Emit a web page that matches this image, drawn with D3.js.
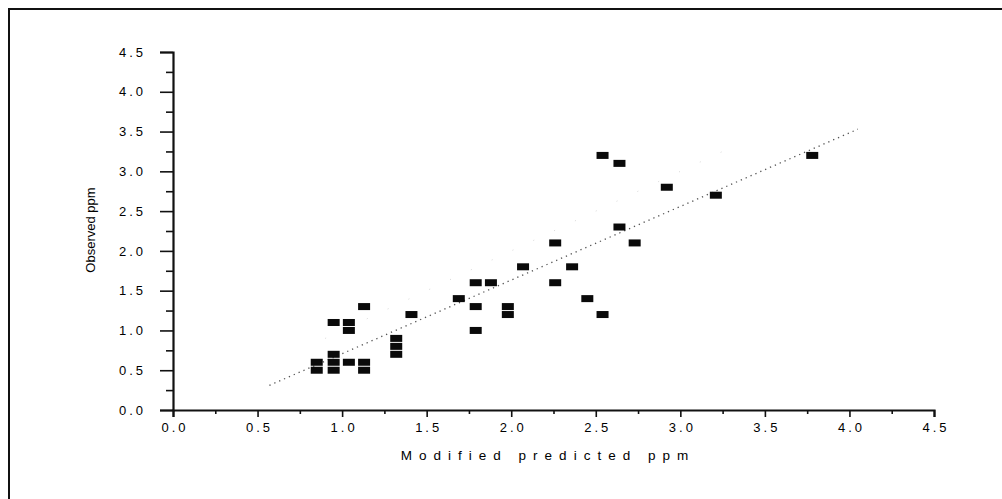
<!DOCTYPE html>
<html>
<head>
<meta charset="utf-8">
<script src="https://cdn.jsdelivr.net/npm/d3@7"></script>
<style>
  body { margin: 0; background: #fff; }
  svg { display: block; font-family: Arial, "Liberation Sans", sans-serif; }
</style>
</head>
<body>
<div class="chart"></div>
<script>
// points (modified predicted ppm vs observed ppm)
var predicted = [0.85,0.85, 0.95,0.95,0.95,0.95, 1.04,1.04,1.04, 1.13,1.13,1.13,
                 1.32,1.32,1.32, 1.41, 1.69, 1.79,1.79,1.79, 1.88, 1.98,1.98,
                 2.07, 2.26,2.26, 2.36, 2.45, 2.54,2.54, 2.64,2.64, 2.73,
                 2.92, 3.21, 3.78];
var observed  = [0.6,0.5, 1.1,0.7,0.6,0.5, 1.1,1.0,0.6, 1.3,0.6,0.5,
                 0.9,0.8,0.7, 1.2, 1.4, 1.6,1.3,1.0, 1.6, 1.3,1.2,
                 1.8, 2.1,1.6, 1.8, 1.4, 3.2,1.2, 3.1,2.3, 2.1,
                 2.8, 2.7, 3.2];

// fitted line (dotted) and faint upper band
var fitX = [0.57, 4.05];
var fitY = [0.31, 3.53];
var bandX = [0.9, 3.25];
var bandY = [0.9, 3.25];

var majorTicks = [0, 0.5, 1, 1.5, 2, 2.5, 3, 3.5, 4, 4.5];
var minorTicks = [0.25, 0.75, 1.25, 1.75, 2.25, 2.75, 3.25, 3.75, 4.25];

var width = 1002, height = 499;

var svg = d3.select('.chart')
            .append('svg')
            .attr('width', width)
            .attr('height', height)
            .style('background', '#fff');

// outer frame (only top and left show inside the picture)
svg.append('path')
   .attr('d', 'M9,' + (height + 5) + 'V9H' + (width + 5))
   .attr('fill', 'none')
   .attr('stroke', '#111')
   .attr('stroke-width', 2);

var xScale = d3.scaleLinear().domain([0, 4.5]).range([173, 934]);
var yScale = d3.scaleLinear().domain([0, 4.5]).range([410, 52]);

var fmt = d3.format('.1f');

// y axis
var yMinor = svg.append('g').attr('transform', 'translate(173,0)')
  .call(d3.axisLeft(yScale).tickValues(minorTicks).tickSize(7).tickFormat(''));
var yAxis = svg.append('g').attr('transform', 'translate(173,0)')
  .call(d3.axisLeft(yScale).tickValues(majorTicks).tickSize(13).tickPadding(14).tickFormat(fmt));

// x axis
var xMinor = svg.append('g').attr('transform', 'translate(0,410)')
  .call(d3.axisBottom(xScale).tickValues(minorTicks).tickSize(4).tickFormat(''));
var xAxis = svg.append('g').attr('transform', 'translate(0,410)')
  .call(d3.axisBottom(xScale).tickValues(majorTicks).tickSize(7).tickPadding(6).tickFormat(fmt));

[yMinor, xMinor].forEach(function(g){ g.select('.domain').remove(); });
[yAxis, xAxis, yMinor, xMinor].forEach(function(g){
  g.selectAll('line').attr('stroke', '#111').attr('stroke-width', 1.6);
});
[yAxis, xAxis].forEach(function(g){
  g.select('.domain').attr('stroke', '#111').attr('stroke-width', 2.2);
  g.selectAll('text')
   .attr('fill', '#000')
   .style('font-size', '13px')
   .style('letter-spacing', '3px');
});
xAxis.selectAll('text').attr('dx', '1.5px');

// axis titles
svg.append('text')
   .attr('x', 548)
   .attr('y', 460)
   .attr('text-anchor', 'middle')
   .style('font-size', '13.5px')
   .style('letter-spacing', '7px')
   .attr('fill', '#000')
   .text('Modified predicted ppm');

svg.append('text')
   .attr('transform', 'translate(95,230) rotate(-90)')
   .attr('text-anchor', 'middle')
   .style('font-size', '13px')
   .attr('fill', '#000')
   .text('Observed ppm');

// faint band line
svg.append('line')
   .attr('x1', xScale(bandX[0])).attr('y1', yScale(bandY[0]))
   .attr('x2', xScale(bandX[1])).attr('y2', yScale(bandY[1]))
   .attr('stroke', '#d8d8d8')
   .attr('stroke-width', 1)
   .attr('stroke-dasharray', '1,22');

// fitted line
svg.append('line')
   .attr('x1', xScale(fitX[0])).attr('y1', yScale(fitY[0]))
   .attr('x2', xScale(fitX[1])).attr('y2', yScale(fitY[1]))
   .attr('stroke', '#555')
   .attr('stroke-width', 1.3)
   .attr('stroke-dasharray', '1.3,4');

// points
svg.selectAll('rect.pt')
   .data(predicted)
   .enter()
   .append('rect')
   .attr('class', 'pt')
   .attr('width', 12)
   .attr('height', 7)
   .attr('x', function(d){ return xScale(d) - 6; })
   .attr('y', function(d, i){ return yScale(observed[i]) - 3.5; })
   .attr('fill', '#0a0a0a');
</script>
</body>
</html>
